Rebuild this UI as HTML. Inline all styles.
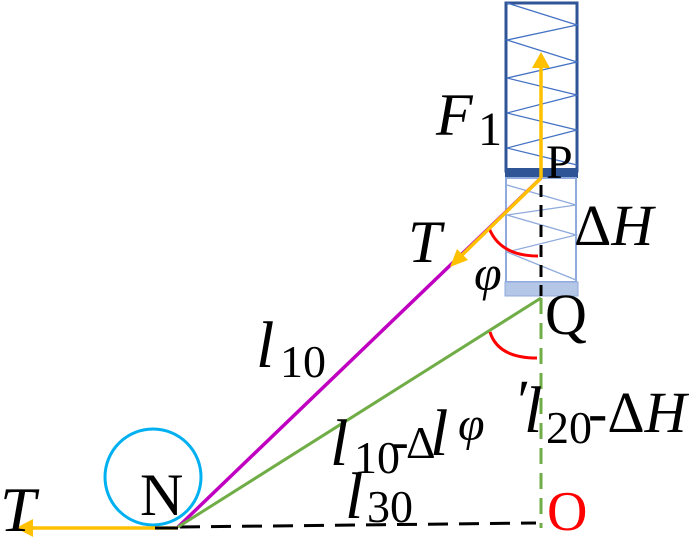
<!DOCTYPE html>
<html><head><style>html,body{margin:0;padding:0;background:#fff;width:700px;height:540px;overflow:hidden}</style></head>
<body>
<svg width="700" height="540" viewBox="0 0 700 540" xmlns="http://www.w3.org/2000/svg" font-family="'Liberation Serif', serif">
<rect x="506" y="3" width="71" height="168" fill="#fff" stroke="#2f5597" stroke-width="3"/>
<polyline points="507,3 577,25 507,40 577,62 507,78 577,95 507,113 577,130 507,148 577,165" fill="none" stroke="#4472c4" stroke-width="1.3"/>
<rect x="505" y="168" width="73" height="10" fill="#2f5597"/>
<rect x="506" y="178" width="70" height="104" fill="#fff" stroke="#8faadc" stroke-width="2"/>
<polyline points="507,185 576,205 507,215 576,235 507,252 576,280" fill="none" stroke="#8faadc" stroke-width="1.3"/>
<rect x="505" y="282" width="73" height="14" fill="#b4c7e7" stroke="#8faadc" stroke-width="1"/>
<line x1="541" y1="185" x2="541" y2="296" stroke="#000" stroke-width="3" stroke-dasharray="12,8"/>
<line x1="541" y1="298" x2="541" y2="528" stroke="#70ad47" stroke-width="3" stroke-dasharray="16,9"/>
<line x1="180" y1="527" x2="536" y2="523" stroke="#000" stroke-width="3" stroke-dasharray="20,11"/>
<ellipse cx="153" cy="477" rx="48" ry="48" fill="none" stroke="#00b0f0" stroke-width="3"/>
<line x1="541" y1="178" x2="178" y2="527" stroke="#c000c0" stroke-width="3.5"/>
<line x1="541" y1="298" x2="178" y2="527" stroke="#70ad47" stroke-width="3"/>
<path d="M489,228 Q500,256 538,256" fill="none" stroke="#ff0000" stroke-width="3"/>
<path d="M490,332 Q498,358 537,358" fill="none" stroke="#ff0000" stroke-width="3"/>
<line x1="541" y1="178" x2="541" y2="66" stroke="#ffc000" stroke-width="3.5"/>
<polygon points="541,52 532,68 550,68" fill="#ffc000"/>
<line x1="541" y1="178" x2="460" y2="257" stroke="#ffc000" stroke-width="3.5"/>
<polygon points="450,267 457,249 468,260" fill="#ffc000"/>
<line x1="178" y1="528" x2="30" y2="528" stroke="#ffc000" stroke-width="3.5"/>
<polygon points="16,528 33,519 33,537" fill="#ffc000"/>
<line x1="155" y1="528" x2="178" y2="528" stroke="#000" stroke-width="3"/>
<text x="436" y="135" font-size="60" font-style="italic">F</text>
<text x="478" y="145" font-size="48">1</text>
<text x="546" y="178" font-size="48">P</text>
<text x="574" y="245" font-size="58">Δ<tspan font-style="italic">H</tspan></text>
<text x="408" y="262" font-size="60" font-style="italic">T</text>
<text x="474" y="290" font-size="50" font-style="italic">φ</text>
<text x="545" y="334" font-size="58">Q</text>
<text x="256" y="367" font-size="66" font-style="italic">l</text>
<text x="280" y="377" font-size="46">10</text>
<text x="514" y="420" font-size="58" font-style="italic">′</text>
<text x="524" y="432" font-size="66" font-style="italic">l</text>
<text x="546" y="443" font-size="46">20</text>
<text x="588" y="432" font-size="58">-Δ<tspan font-style="italic">H</tspan></text>
<text x="330" y="465" font-size="66" font-style="italic">l</text>
<text x="354" y="473" font-size="46">10</text>
<text x="392" y="458" font-size="50">-</text>
<text x="406" y="458" font-size="46">Δ</text>
<text x="430" y="455" font-size="66" font-style="italic">l</text>
<text x="458" y="440" font-size="48" font-style="italic">φ</text>
<text x="345" y="518" font-size="66" font-style="italic">l</text>
<text x="367" y="522" font-size="46">30</text>
<text x="547" y="530" font-size="56" fill="#ff0000">O</text>
<text x="140" y="515" font-size="60">N</text>
<text x="0" y="531" font-size="64" font-style="italic">T</text>
</svg>
</body></html>
